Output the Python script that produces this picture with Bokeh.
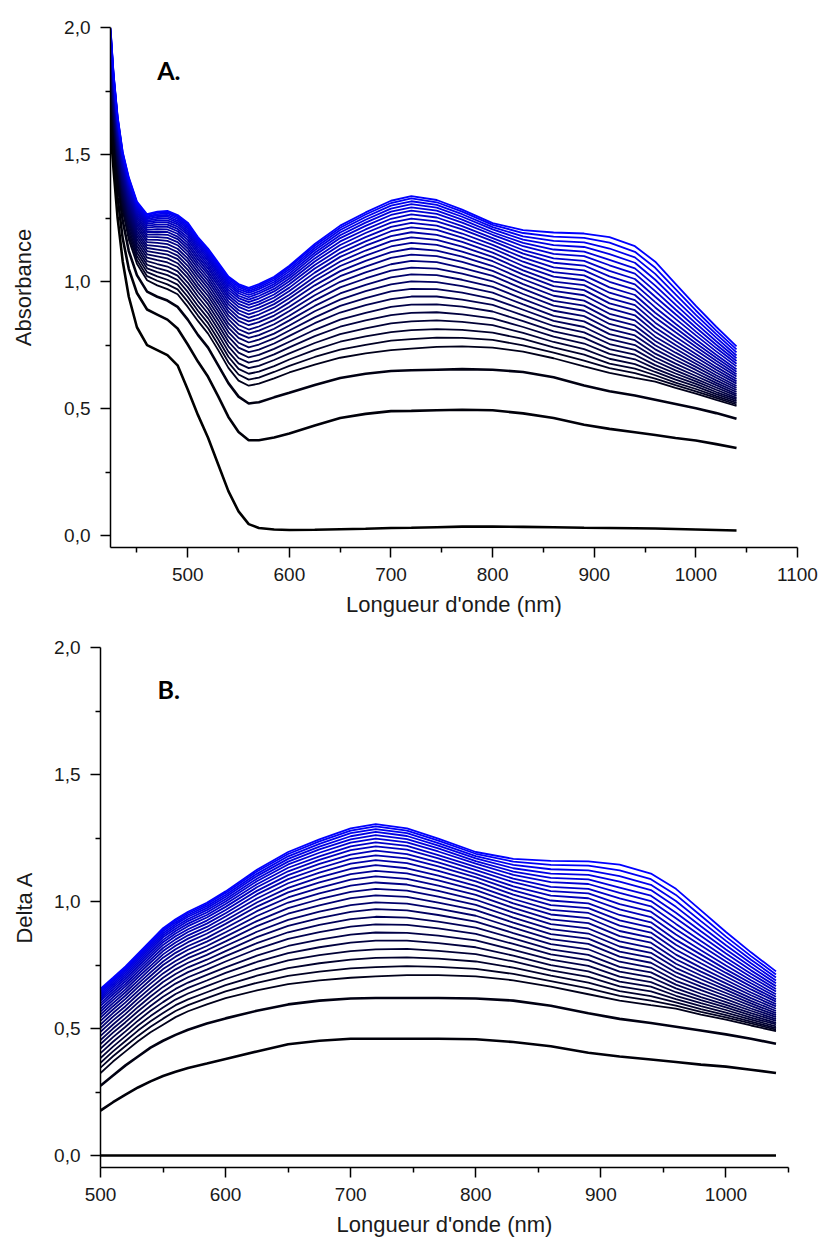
from bokeh.plotting import figure
from bokeh.models import FixedTicker, CustomJSTickFormatter, Range1d, Label, ColumnDataSource
from bokeh.embed import file_html
from bokeh.resources import INLINE

# Wavelengths (nm) at which the spectra were read
WAVELENGTHS = [424, 427, 431, 436, 442, 450, 460, 470, 480, 490,
               500, 510, 520, 530, 540, 550, 560, 570, 585, 600,
               625, 650, 675, 700, 720, 745, 770, 800, 830, 860,
               890, 915, 940, 960, 980, 1000, 1020, 1040]

# Absorbance of the 30 successive spectra (first = lowest, black; last = highest, blue),
# one row per wavelength above
ABSORBANCE_ROWS = [
    [1.60, 1.66, 1.71, 1.750, 1.766, 1.780, 1.795, 1.809, 1.822, 1.836, 1.848, 1.860, 1.872, 1.883, 1.894, 1.904, 1.914, 1.924, 1.932, 1.941, 1.949, 1.956, 1.964, 1.970, 1.976, 1.982, 1.987, 1.992, 1.996, 2.000],
    [1.44, 1.51, 1.56, 1.600, 1.614, 1.627, 1.639, 1.652, 1.664, 1.675, 1.686, 1.697, 1.707, 1.717, 1.727, 1.736, 1.744, 1.753, 1.760, 1.768, 1.775, 1.782, 1.788, 1.794, 1.799, 1.804, 1.809, 1.813, 1.817, 1.820],
    [1.25, 1.33, 1.39, 1.430, 1.444, 1.457, 1.469, 1.482, 1.494, 1.505, 1.516, 1.527, 1.537, 1.547, 1.557, 1.566, 1.574, 1.583, 1.590, 1.598, 1.605, 1.612, 1.618, 1.624, 1.629, 1.634, 1.639, 1.643, 1.647, 1.650],
    [1.08, 1.17, 1.24, 1.280, 1.294, 1.308, 1.321, 1.334, 1.347, 1.359, 1.370, 1.381, 1.392, 1.402, 1.412, 1.422, 1.431, 1.440, 1.448, 1.456, 1.463, 1.470, 1.476, 1.482, 1.488, 1.493, 1.498, 1.502, 1.507, 1.510],
    [0.94, 1.05, 1.12, 1.165, 1.180, 1.195, 1.209, 1.223, 1.236, 1.249, 1.261, 1.273, 1.284, 1.295, 1.306, 1.316, 1.326, 1.335, 1.344, 1.352, 1.360, 1.367, 1.374, 1.381, 1.387, 1.392, 1.397, 1.402, 1.406, 1.410],
    [0.82, 0.955, 1.025, 1.070, 1.085, 1.100, 1.114, 1.128, 1.141, 1.154, 1.166, 1.178, 1.189, 1.200, 1.211, 1.221, 1.231, 1.240, 1.249, 1.257, 1.265, 1.272, 1.279, 1.286, 1.292, 1.297, 1.302, 1.307, 1.311, 1.315],
    [0.75, 0.89, 0.96, 1.005, 1.021, 1.037, 1.052, 1.066, 1.080, 1.094, 1.107, 1.120, 1.132, 1.143, 1.155, 1.165, 1.176, 1.185, 1.195, 1.203, 1.212, 1.220, 1.227, 1.234, 1.240, 1.246, 1.252, 1.256, 1.261, 1.265],
    [0.73, 0.87, 0.94, 0.985, 1.003, 1.020, 1.037, 1.053, 1.069, 1.084, 1.099, 1.113, 1.126, 1.139, 1.152, 1.164, 1.175, 1.186, 1.196, 1.206, 1.216, 1.224, 1.233, 1.240, 1.247, 1.254, 1.260, 1.265, 1.271, 1.275],
    [0.71, 0.85, 0.925, 0.970, 0.989, 1.007, 1.025, 1.042, 1.059, 1.075, 1.091, 1.106, 1.120, 1.134, 1.147, 1.160, 1.172, 1.184, 1.195, 1.205, 1.215, 1.224, 1.233, 1.241, 1.249, 1.256, 1.262, 1.268, 1.273, 1.278],
    [0.67, 0.815, 0.90, 0.950, 0.969, 0.988, 1.006, 1.023, 1.040, 1.057, 1.072, 1.088, 1.102, 1.116, 1.129, 1.143, 1.155, 1.167, 1.177, 1.188, 1.198, 1.207, 1.216, 1.225, 1.232, 1.239, 1.246, 1.252, 1.257, 1.262],
    [0.575, 0.752, 0.85, 0.900, 0.921, 0.940, 0.959, 0.978, 0.996, 1.014, 1.030, 1.046, 1.062, 1.077, 1.091, 1.105, 1.118, 1.130, 1.142, 1.153, 1.164, 1.174, 1.184, 1.192, 1.200, 1.208, 1.215, 1.221, 1.227, 1.232],
    [0.475, 0.685, 0.79, 0.845, 0.866, 0.885, 0.904, 0.923, 0.941, 0.959, 0.975, 0.991, 1.007, 1.022, 1.036, 1.050, 1.063, 1.075, 1.087, 1.098, 1.109, 1.119, 1.128, 1.137, 1.145, 1.152, 1.159, 1.165, 1.171, 1.175],
    [0.385, 0.625, 0.74, 0.795, 0.816, 0.836, 0.855, 0.874, 0.892, 0.910, 0.926, 0.943, 0.958, 0.973, 0.988, 1.002, 1.015, 1.028, 1.039, 1.051, 1.061, 1.071, 1.081, 1.090, 1.098, 1.106, 1.113, 1.119, 1.125, 1.130],
    [0.28, 0.548, 0.67, 0.730, 0.751, 0.772, 0.792, 0.811, 0.830, 0.848, 0.865, 0.882, 0.898, 0.914, 0.928, 0.943, 0.956, 0.969, 0.982, 0.993, 1.004, 1.015, 1.025, 1.034, 1.042, 1.050, 1.057, 1.064, 1.070, 1.075],
    [0.175, 0.467, 0.60, 0.660, 0.682, 0.704, 0.724, 0.745, 0.764, 0.783, 0.801, 0.819, 0.835, 0.852, 0.867, 0.882, 0.896, 0.910, 0.922, 0.935, 0.946, 0.957, 0.967, 0.977, 0.986, 0.994, 1.001, 1.008, 1.015, 1.020],
    [0.095, 0.408, 0.547, 0.610, 0.634, 0.656, 0.678, 0.699, 0.720, 0.740, 0.759, 0.778, 0.795, 0.812, 0.829, 0.845, 0.859, 0.874, 0.887, 0.900, 0.912, 0.924, 0.935, 0.944, 0.954, 0.962, 0.970, 0.978, 0.984, 0.990],
    [0.045, 0.375, 0.52, 0.590, 0.614, 0.637, 0.659, 0.681, 0.701, 0.722, 0.741, 0.760, 0.778, 0.795, 0.811, 0.828, 0.843, 0.857, 0.871, 0.884, 0.896, 0.908, 0.919, 0.929, 0.938, 0.947, 0.955, 0.962, 0.969, 0.975],
    [0.03, 0.375, 0.525, 0.598, 0.622, 0.645, 0.668, 0.690, 0.711, 0.732, 0.752, 0.771, 0.789, 0.807, 0.823, 0.840, 0.855, 0.870, 0.884, 0.897, 0.910, 0.921, 0.933, 0.943, 0.953, 0.961, 0.970, 0.977, 0.984, 0.990],
    [0.024, 0.386, 0.544, 0.619, 0.644, 0.667, 0.691, 0.713, 0.735, 0.756, 0.776, 0.795, 0.814, 0.832, 0.849, 0.866, 0.881, 0.897, 0.911, 0.924, 0.937, 0.949, 0.961, 0.971, 0.981, 0.990, 0.998, 1.006, 1.013, 1.019],
    [0.022, 0.402, 0.562, 0.642, 0.668, 0.693, 0.717, 0.741, 0.763, 0.786, 0.807, 0.827, 0.847, 0.865, 0.884, 0.901, 0.918, 0.934, 0.948, 0.963, 0.976, 0.989, 1.001, 1.012, 1.022, 1.031, 1.040, 1.048, 1.056, 1.062],
    [0.023, 0.433, 0.593, 0.673, 0.703, 0.731, 0.758, 0.785, 0.810, 0.836, 0.859, 0.883, 0.904, 0.926, 0.946, 0.966, 0.985, 1.003, 1.019, 1.035, 1.051, 1.065, 1.079, 1.091, 1.103, 1.113, 1.123, 1.132, 1.141, 1.148],
    [0.025, 0.463, 0.62, 0.700, 0.732, 0.763, 0.793, 0.822, 0.850, 0.878, 0.904, 0.929, 0.953, 0.977, 0.999, 1.021, 1.041, 1.061, 1.079, 1.097, 1.113, 1.129, 1.144, 1.158, 1.171, 1.182, 1.193, 1.203, 1.212, 1.220],
    [0.027, 0.479, 0.637, 0.717, 0.751, 0.784, 0.816, 0.847, 0.877, 0.907, 0.935, 0.962, 0.987, 1.012, 1.036, 1.059, 1.081, 1.102, 1.122, 1.141, 1.158, 1.175, 1.191, 1.205, 1.219, 1.232, 1.243, 1.254, 1.264, 1.272],
    [0.03, 0.49, 0.648, 0.730, 0.767, 0.801, 0.835, 0.868, 0.900, 0.931, 0.961, 0.989, 1.016, 1.043, 1.068, 1.093, 1.116, 1.138, 1.159, 1.179, 1.198, 1.215, 1.232, 1.247, 1.262, 1.275, 1.287, 1.299, 1.309, 1.318],
    [0.031, 0.491, 0.651, 0.736, 0.773, 0.809, 0.843, 0.877, 0.909, 0.941, 0.971, 1.001, 1.028, 1.055, 1.081, 1.106, 1.130, 1.152, 1.174, 1.194, 1.213, 1.231, 1.248, 1.264, 1.279, 1.292, 1.305, 1.316, 1.327, 1.336],
    [0.033, 0.493, 0.653, 0.743, 0.779, 0.813, 0.847, 0.879, 0.910, 0.941, 0.970, 0.998, 1.025, 1.051, 1.076, 1.100, 1.122, 1.144, 1.164, 1.184, 1.203, 1.220, 1.237, 1.252, 1.266, 1.279, 1.291, 1.302, 1.312, 1.321],
    [0.035, 0.495, 0.655, 0.745, 0.778, 0.810, 0.841, 0.871, 0.901, 0.929, 0.956, 0.982, 1.007, 1.031, 1.054, 1.077, 1.098, 1.118, 1.137, 1.156, 1.173, 1.189, 1.205, 1.218, 1.232, 1.244, 1.255, 1.265, 1.275, 1.283],
    [0.035, 0.493, 0.653, 0.740, 0.770, 0.799, 0.828, 0.855, 0.882, 0.908, 0.932, 0.956, 0.979, 1.001, 1.022, 1.042, 1.061, 1.080, 1.097, 1.114, 1.130, 1.144, 1.159, 1.171, 1.184, 1.194, 1.205, 1.214, 1.223, 1.230],
    [0.034, 0.481, 0.644, 0.724, 0.749, 0.774, 0.798, 0.821, 0.844, 0.867, 0.889, 0.910, 0.931, 0.951, 0.971, 0.990, 1.009, 1.027, 1.044, 1.061, 1.078, 1.094, 1.110, 1.124, 1.139, 1.152, 1.165, 1.178, 1.191, 1.202],
    [0.033, 0.463, 0.623, 0.698, 0.720, 0.741, 0.762, 0.783, 0.804, 0.825, 0.845, 0.865, 0.885, 0.905, 0.924, 0.944, 0.963, 0.982, 1.000, 1.019, 1.037, 1.056, 1.074, 1.091, 1.109, 1.126, 1.143, 1.160, 1.177, 1.193],
    [0.031, 0.436, 0.591, 0.666, 0.689, 0.712, 0.734, 0.756, 0.778, 0.800, 0.821, 0.843, 0.864, 0.885, 0.905, 0.925, 0.946, 0.966, 0.986, 1.005, 1.024, 1.044, 1.063, 1.081, 1.100, 1.118, 1.136, 1.154, 1.172, 1.189],
    [0.03, 0.42, 0.568, 0.640, 0.659, 0.677, 0.696, 0.715, 0.734, 0.754, 0.773, 0.793, 0.813, 0.833, 0.853, 0.873, 0.894, 0.914, 0.935, 0.956, 0.977, 0.999, 1.020, 1.042, 1.064, 1.085, 1.108, 1.130, 1.153, 1.175],
    [0.029, 0.407, 0.551, 0.621, 0.639, 0.657, 0.675, 0.694, 0.712, 0.731, 0.750, 0.769, 0.788, 0.808, 0.827, 0.847, 0.867, 0.887, 0.907, 0.927, 0.947, 0.968, 0.989, 1.010, 1.031, 1.052, 1.074, 1.095, 1.117, 1.139],
    [0.028, 0.396, 0.535, 0.606, 0.618, 0.631, 0.644, 0.657, 0.671, 0.686, 0.701, 0.716, 0.733, 0.749, 0.766, 0.783, 0.801, 0.819, 0.838, 0.858, 0.877, 0.898, 0.919, 0.940, 0.962, 0.984, 1.007, 1.030, 1.054, 1.078],
    [0.026, 0.384, 0.518, 0.581, 0.592, 0.602, 0.614, 0.626, 0.638, 0.650, 0.663, 0.677, 0.691, 0.705, 0.720, 0.735, 0.750, 0.766, 0.783, 0.800, 0.817, 0.834, 0.853, 0.871, 0.890, 0.909, 0.929, 0.949, 0.970, 0.991],
    [0.024, 0.374, 0.501, 0.559, 0.568, 0.577, 0.587, 0.597, 0.607, 0.617, 0.628, 0.640, 0.652, 0.664, 0.676, 0.688, 0.702, 0.715, 0.729, 0.743, 0.757, 0.772, 0.788, 0.803, 0.819, 0.835, 0.852, 0.869, 0.886, 0.904],
    [0.022, 0.36, 0.482, 0.534, 0.542, 0.549, 0.557, 0.565, 0.574, 0.583, 0.592, 0.601, 0.611, 0.621, 0.631, 0.642, 0.653, 0.664, 0.676, 0.688, 0.700, 0.712, 0.725, 0.738, 0.751, 0.765, 0.779, 0.793, 0.807, 0.822],
    [0.02, 0.345, 0.46, 0.510, 0.516, 0.522, 0.529, 0.536, 0.542, 0.550, 0.557, 0.565, 0.573, 0.581, 0.589, 0.598, 0.607, 0.616, 0.626, 0.635, 0.645, 0.655, 0.666, 0.676, 0.687, 0.698, 0.709, 0.721, 0.733, 0.745],
]

DELTA_START_NM = 500          # panel B (Delta A = A - first spectrum) starts at 500 nm
X_TICKS_A = [500, 600, 700, 800, 900, 1000, 1100]
X_MINOR_A = [450, 550, 650, 750, 850, 950, 1050]
X_TICKS_B = [500, 600, 700, 800, 900, 1000]
X_MINOR_B = [550, 650, 750, 850, 950, 1050]
Y_TICKS = [0.0, 0.5, 1.0, 1.5, 2.0]
Y_MINOR = [0.25, 0.75, 1.25, 1.75]
TITLE_A = "A."
TITLE_B = "B."
X_LABEL = "Longueur d'onde (nm)"
Y_LABEL_A = "Absorbance"
Y_LABEL_B = "Delta A"

n_curves = len(ABSORBANCE_ROWS[0])
for r in ABSORBANCE_ROWS:
    assert len(r) == n_curves
assert len(ABSORBANCE_ROWS) == len(WAVELENGTHS)

curves_a = [[row[k] for row in ABSORBANCE_ROWS] for k in range(n_curves)]
colors = ["#%02x%02x%02x" % (0, 0, round(255 * k / (n_curves - 1))) for k in range(n_curves)]
widths = [2.6 if k < 3 else 1.8 for k in range(n_curves)]

idx_b = [i for i, w in enumerate(WAVELENGTHS) if w >= DELTA_START_NM]
wl_b = [WAVELENGTHS[i] for i in idx_b]
curves_b = [[ABSORBANCE_ROWS[i][k] - ABSORBANCE_ROWS[i][0] for i in idx_b] for k in range(n_curves)]

FONT = "Liberation Sans"
TXT = "#1a1a1a"


def make_fig(x_range, xt, xm, ylabel, left, fw, right, top, bottom, ylab_standoff):
    p = figure(frame_width=fw, frame_height=520, x_range=Range1d(*x_range),
               y_range=Range1d(-0.047, 2.0), output_backend="svg",
               toolbar_location=None, min_border_left=left, min_border_right=right,
               min_border_top=top, min_border_bottom=bottom)
    p.xgrid.visible = False
    p.ygrid.visible = False
    p.outline_line_color = None
    p.background_fill_color = "white"
    p.border_fill_color = "white"
    p.xaxis.ticker = FixedTicker(ticks=xt, minor_ticks=xm)
    p.yaxis.ticker = FixedTicker(ticks=Y_TICKS, minor_ticks=Y_MINOR)
    p.yaxis.formatter = CustomJSTickFormatter(code="return tick.toFixed(1).replace('.', ',');")
    for ax in (p.xaxis, p.yaxis):
        ax.axis_line_width = 1.5
        ax.axis_line_color = "black"
        ax.major_tick_line_width = 1.5
        ax.minor_tick_line_width = 1.5
        ax.major_tick_line_color = "black"
        ax.minor_tick_line_color = "black"
        ax.major_tick_out = 10
        ax.major_tick_in = 0
        ax.minor_tick_out = 5
        ax.minor_tick_in = 0
        ax.major_label_text_font = FONT
        ax.major_label_text_font_size = "19px"
        ax.major_label_text_color = TXT
        ax.axis_label_text_font = FONT
        ax.axis_label_text_font_size = "22px"
        ax.axis_label_text_font_style = "normal"
        ax.axis_label_text_color = TXT
    p.xaxis.major_label_standoff = 10
    p.yaxis.major_label_standoff = 10
    p.xaxis.axis_label = X_LABEL
    p.xaxis.axis_label_standoff = 8
    p.yaxis.axis_label = ylabel
    p.yaxis.axis_label_standoff = ylab_standoff
    return p


p1 = make_fig((424, 1100), X_TICKS_A, X_MINOR_A, Y_LABEL_A, 110, 687, 23, 27, 81, 25)
src_a = ColumnDataSource(dict(xs=[WAVELENGTHS] * n_curves, ys=curves_a, color=colors, w=widths))
p1.multi_line(xs="xs", ys="ys", line_color="color", line_width="w", source=src_a)
p1.add_layout(Label(x=470, y=1.831, text=TITLE_A, text_font="Lato", text_font_style="bold",
                    text_font_size="25px", text_color="black", text_baseline="alphabetic"))

p2 = make_fig((500, 1050), X_TICKS_B, X_MINOR_B, Y_LABEL_B, 100, 688, 32, 19, 69, 14)
src_b = ColumnDataSource(dict(xs=[wl_b] * n_curves, ys=curves_b, color=colors, w=widths))
p2.multi_line(xs="xs", ys="ys", line_color="color", line_width="w", source=src_b)
p2.add_layout(Label(x=545.5, y=1.835, text=TITLE_B, text_font="Lato", text_font_style="bold",
                    text_font_size="25px", text_color="black", text_baseline="alphabetic"))

# two independent roots stacked vertically (no frame alignment between them)
open("out.html", "w").write(file_html([p1, p2], INLINE))
